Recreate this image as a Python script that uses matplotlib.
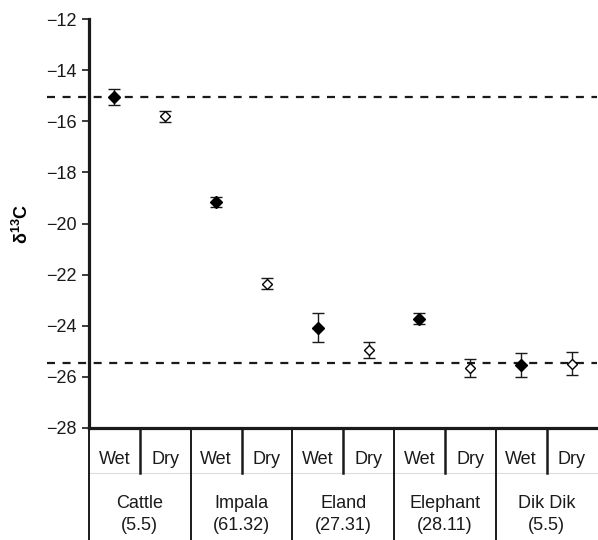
import matplotlib
matplotlib.use("Agg")
import matplotlib.pyplot as plt
from matplotlib.transforms import blended_transform_factory

plt.rcParams['font.family'] = ['Liberation Sans', 'DejaVu Sans']
plt.rcParams['mathtext.fontset'] = 'custom'
plt.rcParams['mathtext.rm'] = 'Liberation Sans'
plt.rcParams['mathtext.bf'] = 'Liberation Sans:bold'

# Species, with the value shown under each name
species = ["Cattle", "Impala", "Eland", "Elephant", "Dik Dik"]
species_values = ["(5.5)", "(61.32)", "(27.31)", "(28.11)", "(5.5)"]
seasons = ["Wet", "Dry"]

# Mean d13C and error per species, wet and dry season
wet_mean = [-15.05, -19.16, -24.08, -23.72, -25.55]
wet_err = [0.32, 0.21, 0.56, 0.23, 0.47]
dry_mean = [-15.81, -22.35, -24.95, -25.66, -25.48]
dry_err = [0.22, 0.22, 0.31, 0.36, 0.46]

# Reference levels
ref_levels = [-15.05, -25.47]

yticks = [-12, -14, -16, -18, -20, -22, -24, -26, -28]

fig = plt.figure(figsize=(5.98, 5.40), dpi=100)
ax = fig.add_axes([89 / 598, 1 - 428 / 540, 1 - 89 / 598 - 0.001, (428 - 19) / 540])

n = len(species)
ax.set_xlim(0, 2 * n)
ax.set_ylim(-28, -12)

for spine in ("top", "right"):
    ax.spines[spine].set_visible(False)
for spine in ("left", "bottom"):
    ax.spines[spine].set_linewidth(2.3)
    ax.spines[spine].set_color("#1a1a1a")

ax.set_yticks(yticks)
ax.set_yticklabels([f"\u2212{abs(v)}" for v in yticks])
ax.tick_params(axis="y", length=5, width=1.2, pad=4, labelsize=13, colors="#1a1a1a")
ax.set_xticks([])

ax.set_ylabel(r"$\mathbf{\delta^{13}C}$", fontsize=13)
ax.yaxis.set_label_coords(-0.112, 0.5)

# Reference dashed lines, extending into the label margin
for lvl in ref_levels:
    ax.plot([-0.82, 2 * n], [lvl, lvl], color="#1a1a1a", lw=1.6,
            linestyle=(0, (3.6, 3.4)), clip_on=False, zorder=1)

wet_x = [2 * i + 0.5 for i in range(n)]
dry_x = [2 * i + 1.5 for i in range(n)]

ax.errorbar(wet_x, wet_mean, yerr=wet_err, fmt="D", color="black",
            markerfacecolor="black", markeredgecolor="black", markersize=5.8,
            ecolor="#1a1a1a", elinewidth=1.0, capsize=4, capthick=1.0, zorder=3)
ax.errorbar(dry_x, dry_mean, yerr=dry_err, fmt="D", color="black",
            markerfacecolor="white", markeredgecolor="black", markersize=5.5,
            markeredgewidth=1.0, ecolor="#1a1a1a", elinewidth=1.0, capsize=4,
            capthick=1.0, zorder=3)

# Category table under the axis
trans = blended_transform_factory(ax.transData, ax.transAxes)
row_split = -0.110
bottom = -0.28

ax.plot([0, 2 * n], [row_split, row_split], transform=trans, color="#dddddd",
        lw=0.8, clip_on=False)

for i in range(n):
    # group boundary
    ax.plot([2 * i, 2 * i], [0, bottom], transform=trans, color="#1a1a1a",
            lw=1.4, clip_on=False)
    # season divider
    ax.plot([2 * i + 1, 2 * i + 1], [0, row_split], transform=trans,
            color="#1a1a1a", lw=1.8, clip_on=False)
    for j, s in enumerate(seasons):
        ax.text(2 * i + 0.5 + j, -0.078, s, transform=trans, ha="center",
                va="center", fontsize=13, color="#1a1a1a")
    ax.text(2 * i + 1, -0.184, species[i], transform=trans, ha="center",
            va="center", fontsize=13, color="#1a1a1a")
    ax.text(2 * i + 1, -0.238, species_values[i], transform=trans,
            ha="center", va="center", fontsize=13, color="#1a1a1a")

fig.savefig("out.png", dpi=100)
